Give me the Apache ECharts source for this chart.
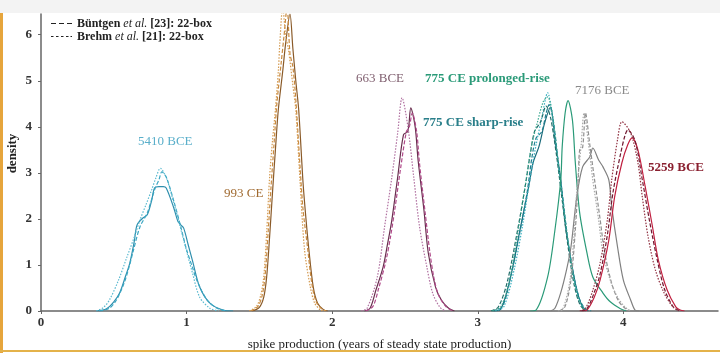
<!DOCTYPE html>
<html>
<head>
<meta charset="utf-8">
<script src="https://cdn.jsdelivr.net/npm/echarts@6/dist/echarts.min.js"></script>
<style>
body{margin:0;background:#fff;}
#wrap{position:relative;width:720px;height:353px;overflow:hidden;}
#main{position:absolute;left:0;top:0;width:720px;height:353px;}
#topband{position:absolute;left:0;top:0;width:720px;height:13px;background:#f3f3f3;}
#leftbar{position:absolute;left:0;top:13px;width:3px;height:340px;background:#e6a53c;}
#botbar{position:absolute;left:0;top:350px;width:720px;height:2px;background:#e4b24a;}
</style>
</head>
<body>
<div id="wrap">
  <div id="main"></div>
  <div id="topband"></div>
  <div id="leftbar"></div>
  <div id="botbar"></div>
</div>
<script>
// tick labels
var xTicks = [0, 1, 2, 3, 4]
var yTicks = [0, 1, 2, 3, 4, 5, 6]

// densities, [spike production, density]
var s5410_solid = [[0.38,0],[0.45,0.05],[0.50,0.2],[0.54,0.39],[0.58,0.75],[0.61,1.04],[0.64,1.5],[0.66,1.87],[0.70,2.02],[0.73,2.09],[0.76,2.4],[0.78,2.67],[0.81,2.7],[0.84,2.7],[0.86,2.67],[0.91,2.26],[0.94,1.95],[0.96,1.87],[0.98,1.8],[1.01,1.45],[1.04,1.1],[1.09,0.52],[1.16,0.17],[1.25,0.02],[1.32,0]]
var s5410_dashed = [[0.40,0],[0.47,0.06],[0.52,0.25],[0.57,0.6],[0.60,0.9],[0.63,1.26],[0.68,1.83],[0.73,2.13],[0.78,2.63],[0.81,2.85],[0.83,3.02],[0.86,2.91],[0.91,2.41],[0.96,1.83],[1.0,1.33],[1.04,0.95],[1.07,0.67],[1.14,0.24],[1.21,0.06],[1.28,0]]
var s5410_dotted = [[0.38,0],[0.43,0.08],[0.47,0.24],[0.53,0.65],[0.59,1.17],[0.64,1.6],[0.68,1.98],[0.72,2.3],[0.76,2.63],[0.79,2.9],[0.82,3.1],[0.86,2.9],[0.89,2.6],[0.92,2.26],[0.98,1.54],[1.04,0.83],[1.09,0.3],[1.16,0.06],[1.22,0]]

var s993_solid = [[1.45,0],[1.50,0.08],[1.53,0.3],[1.55,0.74],[1.57,1.6],[1.59,2.57],[1.61,3.5],[1.63,4.37],[1.66,5.2],[1.68,5.8],[1.71,6.45],[1.73,5.7],[1.75,5.0],[1.77,4.37],[1.80,2.78],[1.82,2.0],[1.84,1.33],[1.87,0.52],[1.90,0.17],[1.94,0.03],[1.97,0]]
var s993_dashed = [[1.44,0],[1.49,0.1],[1.52,0.35],[1.54,0.8],[1.56,1.7],[1.58,2.7],[1.60,3.6],[1.62,4.5],[1.65,5.4],[1.67,6.0],[1.69,6.6],[1.71,5.6],[1.73,5.3],[1.75,4.6],[1.78,3.1],[1.80,2.2],[1.83,1.4],[1.86,0.6],[1.89,0.2],[1.93,0.04],[1.96,0]]
var s993_dotted = [[1.43,0],[1.48,0.1],[1.51,0.35],[1.53,0.74],[1.55,1.7],[1.57,2.9],[1.59,3.7],[1.61,4.37],[1.63,5.2],[1.64,5.8],[1.66,6.6],[1.68,6.0],[1.70,5.67],[1.73,4.9],[1.75,4.37],[1.78,2.78],[1.81,1.33],[1.85,0.52],[1.88,0.17],[1.92,0.02],[1.95,0]]

var s663_solid = [[2.22,0],[2.26,0.06],[2.30,0.45],[2.35,0.96],[2.38,1.45],[2.41,1.98],[2.45,2.91],[2.49,3.83],[2.52,3.9],[2.54,4.41],[2.57,4.0],[2.59,3.28],[2.63,2.2],[2.66,1.26],[2.71,0.52],[2.75,0.24],[2.80,0.06],[2.84,0]]
var s663_dashed = [[2.23,0],[2.28,0.1],[2.32,0.5],[2.37,1.1],[2.40,1.6],[2.43,2.2],[2.47,3.1],[2.51,3.9],[2.53,4.0],[2.55,4.3],[2.58,3.9],[2.60,3.2],[2.64,2.1],[2.67,1.3],[2.70,0.7],[2.73,0.35],[2.78,0.1],[2.83,0]]
var s663_dotted = [[2.20,0],[2.24,0.06],[2.31,0.74],[2.36,1.83],[2.41,2.91],[2.45,3.87],[2.48,4.63],[2.52,4.0],[2.56,2.91],[2.60,1.83],[2.65,0.96],[2.69,0.39],[2.74,0.08],[2.78,0]]

var s775s_solid = [[3.10,0],[3.15,0.02],[3.22,0.67],[3.29,1.76],[3.35,2.7],[3.38,3.22],[3.42,3.57],[3.46,4.09],[3.50,4.43],[3.53,3.72],[3.57,2.85],[3.60,1.91],[3.64,1.11],[3.68,0.46],[3.72,0.09],[3.76,0]]
var s775s_dashed = [[3.11,0],[3.17,0.1],[3.23,0.8],[3.30,1.9],[3.34,2.6],[3.37,3.3],[3.40,3.75],[3.44,3.9],[3.47,4.3],[3.49,4.48],[3.52,4.1],[3.55,3.3],[3.59,2.3],[3.62,1.5],[3.66,0.75],[3.70,0.25],[3.74,0.04],[3.78,0]]
var s775s_dotted = [[3.12,0],[3.18,0.1],[3.25,0.9],[3.31,1.9],[3.36,2.9],[3.40,3.6],[3.44,4.2],[3.48,4.74],[3.51,4.3],[3.54,3.5],[3.58,2.5],[3.62,1.5],[3.66,0.7],[3.70,0.2],[3.74,0]]
var s775p_dashed = [[3.09,0],[3.14,0.08],[3.20,0.6],[3.27,1.7],[3.32,2.6],[3.36,3.4],[3.39,3.9],[3.43,4.1],[3.47,4.45],[3.50,4.2],[3.54,3.4],[3.58,2.4],[3.62,1.4],[3.66,0.6],[3.70,0.15],[3.74,0]]
var s775p_dotted = [[3.10,0],[3.16,0.1],[3.22,0.7],[3.28,1.8],[3.33,2.8],[3.37,3.6],[3.41,4.1],[3.45,4.55],[3.48,4.65],[3.52,4.1],[3.56,3.0],[3.60,2.0],[3.64,1.1],[3.68,0.4],[3.72,0.08],[3.76,0]]
var s775p_solid = [[3.36,0],[3.40,0.02],[3.48,0.74],[3.53,1.76],[3.57,2.85],[3.58,3.57],[3.60,4.3],[3.62,4.57],[3.65,4.15],[3.67,3.22],[3.70,2.13],[3.75,1.26],[3.79,0.74],[3.86,0.39],[3.91,0.2],[3.98,0.05],[4.02,0]]

var s7176_solid = [[3.50,0],[3.53,0.06],[3.57,0.4],[3.61,0.9],[3.64,1.39],[3.68,2.48],[3.72,3.13],[3.77,3.35],[3.79,3.54],[3.83,3.28],[3.86,3.13],[3.90,2.85],[3.92,2.26],[3.96,1.39],[4.00,0.67],[4.05,0.24],[4.08,0.02],[4.11,0]]
var s7176_dashed = [[3.56,0],[3.60,0.1],[3.64,0.67],[3.67,1.76],[3.69,2.85],[3.70,3.5],[3.72,3.55],[3.74,4.3],[3.77,3.6],[3.80,2.9],[3.84,2.0],[3.87,1.3],[3.92,0.6],[3.97,0.2],[4.02,0.04],[4.05,0]]
var s7176_dotted = [[3.55,0],[3.58,0.02],[3.63,0.6],[3.66,1.6],[3.68,2.6],[3.71,3.6],[3.73,4.3],[3.76,3.65],[3.79,2.85],[3.83,1.98],[3.86,1.26],[3.91,0.67],[3.96,0.3],[4.01,0.09],[4.05,0]]

var s5259_solid = [[3.72,0],[3.75,0.02],[3.80,0.3],[3.84,0.67],[3.90,1.54],[3.94,2.48],[3.99,3.22],[4.03,3.61],[4.06,3.76],[4.10,3.5],[4.15,2.7],[4.20,1.83],[4.24,1.11],[4.30,0.46],[4.36,0.09],[4.39,0.02],[4.42,0]]
var s5259_dashed = [[3.71,0],[3.75,0.05],[3.80,0.4],[3.84,0.8],[3.89,1.65],[3.93,2.6],[3.98,3.4],[4.01,3.8],[4.03,3.93],[4.08,3.7],[4.13,2.85],[4.18,1.95],[4.23,1.15],[4.28,0.5],[4.34,0.1],[4.39,0]]
var s5259_dotted = [[3.70,0],[3.74,0.06],[3.79,0.45],[3.84,1.04],[3.89,1.98],[3.92,2.85],[3.96,3.72],[3.99,4.11],[4.05,3.87],[4.10,3.22],[4.13,2.48],[4.17,1.61],[4.22,0.89],[4.28,0.39],[4.34,0.09],[4.38,0]]

var legendNames = ['Büntgen et al. [23]: 22-box', 'Brehm et al. [21]: 22-box']

var FONT = '"Liberation Serif", "DejaVu Serif", serif'
var DASH = [4, 2]
var DOT = [1.5, 1.5]
// legend glyphs: a dashed and a dotted stroke
var ICON_DASH = 'path://M0,0h5v1h-5z M8,0h5v1h-5z M16,0h5v1h-5z'
var ICON_DOT = 'path://M0,0h2.5v1h-2.5z M5,0h2.5v1h-2.5z M10,0h2.5v1h-2.5z M15,0h2.5v1h-2.5z M19.5,0h1.5v1h-1.5z'

function curve(name, data, color, type) {
    return {
        name: name,
        type: 'line',
        data: data,
        smooth: 0.3,
        symbol: 'none',
        silent: true,
        clip: true,
        lineStyle: { color: color, width: 1.2, type: type || 'solid' },
        z: 3
    }
}

function label(text, x, y, color, bold) {
    return {
        type: 'text', left: x, top: y,
        style: { text: text, fill: color, font: (bold ? 'bold ' : '') + '13px ' + FONT }
    }
}

var myChart = echarts.init(document.getElementById('main'))

var options = {
    animation: false,
    grid: { left: 41, right: 2, top: 14, bottom: 42, outerBoundsMode: 'none', containLabel: false },
    legend: {
        orient: 'vertical',
        left: 46, top: 12,
        itemWidth: 21, itemHeight: 2, itemGap: 0,
        data: [
            { name: legendNames[0], icon: ICON_DASH },
            { name: legendNames[1], icon: ICON_DOT }
        ],
        formatter: function (name) {
            var p = name.split(' et al. ')
            return '{a|' + p[0] + ' }{i|et al.}{a| ' + p[1] + '}'
        },
        textStyle: {
            color: '#222', fontFamily: FONT, fontSize: 12, lineHeight: 13,
            rich: {
                a: { fontFamily: FONT, fontSize: 12, fontWeight: 'bold', color: '#222', lineHeight: 13 },
                i: { fontFamily: FONT, fontSize: 12, fontStyle: 'italic', color: '#222', lineHeight: 13 }
            }
        }
    },
    xAxis: {
        type: 'value', min: 0, max: 4.65,
        name: 'spike production (years of steady state production)',
        nameLocation: 'middle', nameGap: 27,
        nameTextStyle: { fontFamily: FONT, fontSize: 13, color: '#222' },
        axisLine: { lineStyle: { color: '#666', width: 1.5 } },
        axisTick: { show: true, length: 3, customValues: xTicks, lineStyle: { color: '#666' } },
        axisLabel: { customValues: xTicks, margin: 5, fontFamily: FONT, fontSize: 13, fontWeight: 'bold', color: '#333' },
        splitLine: { show: false }
    },
    yAxis: {
        type: 'value', min: 0, max: 6.45,
        name: 'density',
        nameLocation: 'middle', nameGap: 22, nameRotate: 90, nameMoveOverlap: false,
        nameTextStyle: { fontFamily: FONT, fontSize: 13, fontWeight: 'bold', color: '#222', padding: [0, 0, 0, 18] },
        axisLine: { show: true, lineStyle: { color: '#666', width: 1.5 } },
        axisTick: { show: true, length: 3, customValues: yTicks, lineStyle: { color: '#666' } },
        axisLabel: { customValues: yTicks, margin: 9, fontFamily: FONT, fontSize: 13, fontWeight: 'bold', color: '#333' },
        splitLine: { show: false }
    },
    graphic: [
        label('5410 BCE', 138, 135, '#5aafca', false),
        label('993 CE', 224, 187, '#a06a30', false),
        label('663 BCE', 356, 72, '#806070', false),
        label('775 CE prolonged-rise', 425, 72, '#2a9a78', true),
        label('775 CE sharp-rise', 423, 116, '#2a7f8a', true),
        label('7176 BCE', 575, 84, '#8a8a8a', false),
        label('5259 BCE', 648, 161, '#8a2030', true)
    ],
    series: [
        { name: legendNames[0], type: 'line', data: [], symbol: 'none', lineStyle: { color: '#222', width: 1.5, type: DASH }, itemStyle: { color: '#222' } },
        { name: legendNames[1], type: 'line', data: [], symbol: 'none', lineStyle: { color: '#222', width: 1.5, type: DOT }, itemStyle: { color: '#222' } },

        curve('5410 BCE', s5410_solid, '#2f8fae'),
        curve('5410 BCE b', s5410_dashed, '#3aa6c2', DASH),
        curve('5410 BCE r', s5410_dotted, '#5cbad0', DOT),

        curve('993 CE', s993_solid, '#8a5a28'),
        curve('993 CE b', s993_dashed, '#c88a40', DASH),
        curve('993 CE r', s993_dotted, '#d49a50', DOT),

        curve('663 BCE', s663_solid, '#6a3050'),
        curve('663 BCE b', s663_dashed, '#b04a8a', DASH),
        curve('663 BCE r', s663_dotted, '#b070a0', DOT),

        curve('775 sharp', s775s_solid, '#1a6a7a'),
        curve('775 sharp b', s775s_dashed, '#1e7f8f', DASH),
        curve('775 sharp r', s775s_dotted, '#3cb0c0', DOT),
        curve('775 prol b', s775p_dashed, '#226e6a', DASH),
        curve('775 prol r', s775p_dotted, '#3aa890', DOT),
        curve('775 prol', s775p_solid, '#2a9a78'),

        curve('7176 BCE', s7176_solid, '#808080'),
        curve('7176 BCE b', s7176_dashed, '#909090', DASH),
        curve('7176 BCE r', s7176_dotted, '#a8a8a8', DOT),

        curve('5259 BCE', s5259_solid, '#c02040'),
        curve('5259 BCE b', s5259_dashed, '#701830', DASH),
        curve('5259 BCE r', s5259_dotted, '#903040', DOT)
    ],
    textStyle: { fontFamily: FONT }
}
myChart.setOption(options)
window.addEventListener('resize', function () { myChart.resize() })
</script>
</body>
</html>
